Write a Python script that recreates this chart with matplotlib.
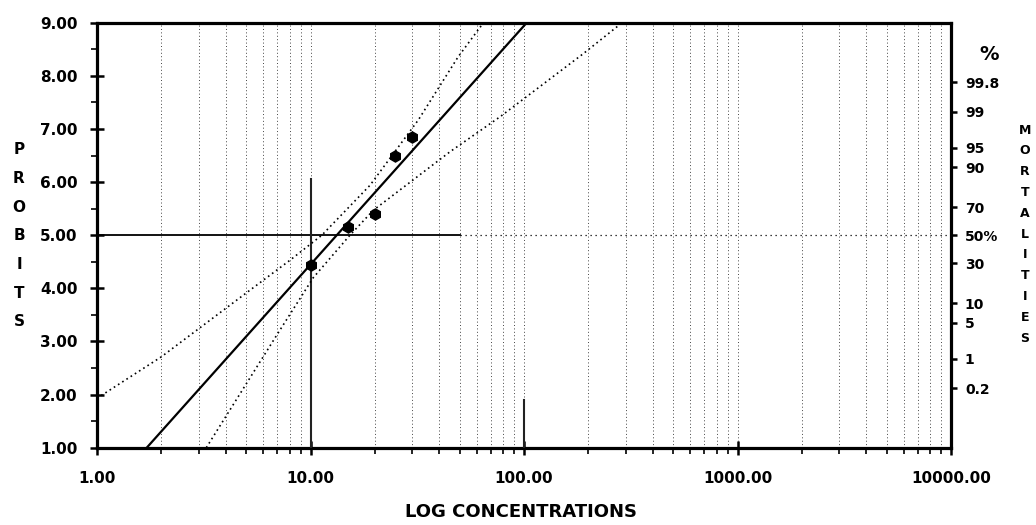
import matplotlib
matplotlib.use("Agg")
import matplotlib.pyplot as plt
from matplotlib.ticker import FixedLocator, NullFormatter
from statistics import NormalDist

# ---------------- data ----------------
conc_points = [10, 15, 20, 25, 30]
probit_points = [4.44, 5.15, 5.40, 6.50, 6.84]

reg_conc = [1.71, 103.0]
reg_probit = [1.0, 9.0]

upper_band_conc = [1.0, 2.0, 4.84, 8.02, 11.3, 19.0, 32.0, 49.2, 64.6]
upper_band_probit = [1.93, 2.71, 3.87, 4.53, 5.0, 5.94, 7.17, 8.36, 9.0]

lower_band_conc = [3.25, 6.95, 10.3, 15.3, 19.7, 45.0, 77.3, 190.0, 288.0]
lower_band_probit = [1.0, 3.12, 4.2, 5.0, 5.47, 6.57, 7.23, 8.42, 9.0]

lc50_conc_end = 50
x10_probit_top = 6.05
x100_probit_top = 1.89

y_ticks = [1, 2, 3, 4, 5, 6, 7, 8, 9]
y_tick_labels = ["1.00", "2.00", "3.00", "4.00", "5.00", "6.00", "7.00", "8.00", "9.00"]
x_ticks = [1, 10, 100, 1000, 10000]
x_tick_labels = ["1.00", "10.00", "100.00", "1000.00", "10000.00"]

pct_values = [99.8, 99, 95, 90, 70, 50, 30, 10, 5, 1, 0.2]
pct_labels = ["99.8", "99", "95", "90", "70", "50%", "30", "10", "5", "1", "0.2"]

W, H = 1036, 525
fig = plt.figure(figsize=(W / 100, H / 100), dpi=100)
fig.patch.set_facecolor("white")
ax = fig.add_axes([97 / W, 1 - 447.7 / H, (951 - 97) / W, (447.7 - 22.7) / H])
ax.set_xscale("log")
ax.set_xlim(1, 10000)
ax.set_ylim(1, 9)

FONT = "DejaVu Sans"

# dotted vertical grid (minor + major)
ax.xaxis.set_minor_locator(FixedLocator([m * 10 ** d for d in range(4) for m in range(2, 10)]))
ax.grid(which="minor", axis="x", linestyle=(0, (1, 2.5)), linewidth=0.7, color="#444444")
ax.grid(which="major", axis="x", linestyle=(0, (1, 2.5)), linewidth=0.7, color="#444444")
ax.grid(which="both", axis="y", visible=False)

# reference lines
ax.plot([1, lc50_conc_end], [5, 5], color="black", linewidth=1.3, zorder=3)
ax.plot([lc50_conc_end, 10000], [5, 5], color="black", linewidth=0.9,
        linestyle=(0, (1, 3)), zorder=3)
ax.plot([10, 10], [1, x10_probit_top], color="#222222", linewidth=1.5, zorder=3)
ax.plot([100, 100], [1, x100_probit_top], color="#222222", linewidth=1.5, zorder=3)

# confidence bands
ax.plot(upper_band_conc, upper_band_probit, color="black", linewidth=1.2,
        linestyle=(0, (1, 2)), zorder=4)
ax.plot(lower_band_conc, lower_band_probit, color="black", linewidth=1.2,
        linestyle=(0, (1, 2)), zorder=4)

# regression line
ax.plot(reg_conc, reg_probit, color="black", linewidth=1.6, zorder=5)

# observed points
ax.plot(conc_points, probit_points, linestyle="none", marker="h", markersize=8,
        color="black", zorder=6)

# spines
for s in ax.spines.values():
    s.set_linewidth(2.3)
    s.set_color("black")

# x ticks
ax.xaxis.set_major_locator(FixedLocator(x_ticks))
ax.set_xticklabels(x_tick_labels, fontfamily=FONT, fontweight="bold", fontsize=11)
ax.xaxis.set_minor_formatter(NullFormatter())
ax.tick_params(axis="x", which="major", direction="inout", length=10, width=1.8, pad=12)
ax.tick_params(axis="x", which="minor", direction="out", length=4, width=1.2)

# y ticks (left)
ax.yaxis.set_major_locator(FixedLocator(y_ticks))
ax.set_yticklabels(y_tick_labels, fontfamily=FONT, fontweight="bold", fontsize=11)
ax.yaxis.set_minor_locator(FixedLocator([v + 0.5 for v in y_ticks[:-1]]))
ax.tick_params(axis="y", which="major", direction="inout", length=10, width=1.8, pad=9)
ax.tick_params(axis="y", which="minor", direction="out", length=4, width=1.2)

# right axis: mortality percentages on probit scale
ax2 = ax.twinx()
ax2.set_ylim(ax.get_ylim())
nd = NormalDist()
ax2.yaxis.set_major_locator(FixedLocator([nd.inv_cdf(p / 100) + 5 for p in pct_values]))
ax2.set_yticklabels(pct_labels, fontfamily=FONT, fontweight="bold", fontsize=10)
ax2.tick_params(axis="y", which="major", direction="out", length=4, width=1.8, pad=6)
for s in ax2.spines.values():
    s.set_visible(False)

# axis titles
fig.text(521 / W, 1 - 512 / H, "LOG CONCENTRATIONS", ha="center", va="center",
         fontfamily=FONT, fontweight="bold", fontsize=13)
for i, ch in enumerate("PROBITS"):
    fig.text(19 / W, 1 - (150 + i * 28.6) / H, ch, ha="center", va="center",
             fontfamily=FONT, fontweight="bold", fontsize=11)
for i, ch in enumerate("MORTALITIES"):
    fig.text(1025 / W, 1 - (130 + i * 20.8) / H, ch, ha="center", va="center",
             fontfamily=FONT, fontweight="bold", fontsize=9)
fig.text(989 / W, 1 - 55 / H, "%", ha="center", va="center",
         fontfamily=FONT, fontweight="bold", fontsize=14)

fig.savefig("out.png", dpi=100, facecolor="white")
